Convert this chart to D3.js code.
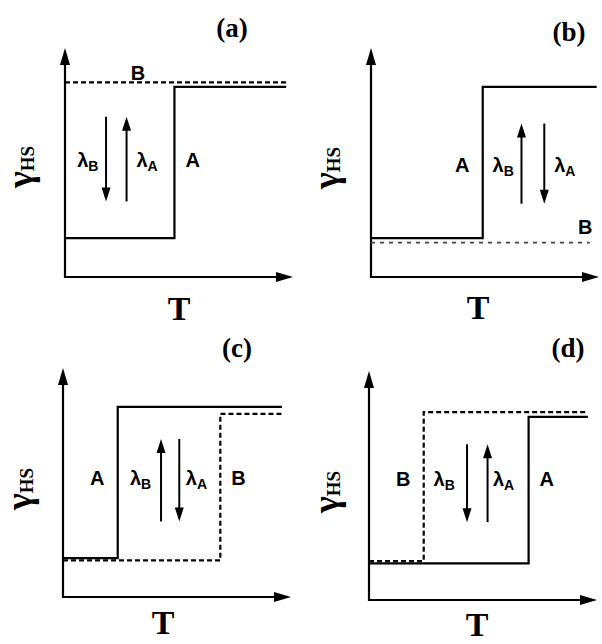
<!DOCTYPE html>
<html>
<head>
<meta charset="utf-8">
<script src="https://cdn.jsdelivr.net/npm/d3@7"></script>
<style>
  html, body { margin: 0; padding: 0; background: #fff; }
  svg { display: block; }
</style>
</head>
<body>
<script>
// ---- data (T and gamma_HS in arbitrary 0-100 units) ----
const panelNames  = ["(a)", "(b)", "(c)", "(d)"];
const transitionA = [48, 49, 24, 70];
const lowA        = [17, 17, 17, 16];
const highA       = [83, 83, 83, 80];
const endA        = [97, 99, 96, 96];
const transitionB = [null, null, 69, 24];
const lowB        = [85, 15, 16, 17];
const highB       = [85, 15, 80, 82];
const endB        = [97, 96, 96, 96];
const lambdaBT    = [18, 66, 43, 43];
const lambdaBDir  = ["down", "up", "up", "down"];
const lambdaAT    = [27, 76, 51, 52];
const lambdaADir  = ["up", "down", "down", "up"];
const arrowLow    = [33, 32, 33, 34];
const arrowHigh   = [70, 67, 69, 68];

// ---- layout ----
const W = 602, H = 644;
const origins = [[65, 277], [371, 277], [63, 597], [369, 600]];
const PW = 228, PH = 229;
// label positions (in data units) per panel: [text, T, gamma, kind]
const labelPos = [
  [["B", 32, 89, "AB"], ["λ", 10, 51, "lB"], ["λ", 36, 51, "lA"], ["A", 56, 51, "AB"]],
  [["A", 40, 49, "AB"], ["λ", 58, 49, "lB"], ["λ", 85, 49, "lA"], ["B", 94, 22, "AB"]],
  [["A", 15, 52, "AB"], ["λ", 34, 52, "lB"], ["λ", 58.5, 52, "lA"], ["B", 77, 52, "AB"]],
  [["B", 15, 53, "AB"], ["λ", 33, 53, "lB"], ["λ", 59, 53, "lA"], ["A", 78, 53, "AB"]]
];
const titlePos = [[232, 37], [569, 41], [237, 357], [568, 357]];
const tPos = [[179, 320], [478, 319], [163, 634], [477, 636]];
const gPos = [[32, 167], [338, 168], [31, 489], [338, 492]];

const svg = d3.select("body").append("svg")
  .attr("width", W).attr("height", H);
svg.append("rect").attr("width", W).attr("height", H).attr("fill", "#fff");

function headPath(x, y, dir, len, hw) {
  // tip at (x,y)
  if (dir === "up")    return `M${x},${y} L${x-hw},${y+len} L${x+hw},${y+len} Z`;
  if (dir === "down")  return `M${x},${y} L${x-hw},${y-len} L${x+hw},${y-len} Z`;
  if (dir === "right") return `M${x},${y} L${x-len},${y-hw} L${x-len},${y+hw} Z`;
}

const line = d3.line().curve(d3.curveStepAfter);

panelNames.forEach((name, i) => {
  const [ox, oy] = origins[i];
  const x = d3.scaleLinear().domain([0, 100]).range([ox, ox + PW]);
  const y = d3.scaleLinear().domain([0, 100]).range([oy, oy - PH]);
  const g = svg.append("g");

  // axes
  g.append("line").attr("x1", x(0)).attr("y1", y(0) + 1).attr("x2", x(0)).attr("y2", y(100) + 14)
    .attr("stroke", "#000").attr("stroke-width", 2.2);
  g.append("path").attr("d", headPath(x(0), y(100), "up", 17, 5)).attr("fill", "#000");
  g.append("line").attr("x1", x(0) - 1).attr("y1", y(0)).attr("x2", x(100) - 14).attr("y2", y(0))
    .attr("stroke", "#000").attr("stroke-width", 2.2);
  g.append("path").attr("d", headPath(x(100), y(0), "right", 17, 5)).attr("fill", "#000");

  // curve A (solid)
  const ptsA = [[0, lowA[i]], [transitionA[i], highA[i]], [endA[i], highA[i]]];
  g.append("path")
    .attr("d", line(ptsA.map(p => [x(p[0]), y(p[1])])))
    .attr("fill", "none").attr("stroke", "#000").attr("stroke-width", 2.2);

  // curve B (dashed)
  const ptsB = transitionB[i] === null
    ? [[0, lowB[i]], [endB[i], lowB[i]]]
    : [[0, lowB[i]], [transitionB[i], highB[i]], [endB[i], highB[i]]];
  const thin = i === 1;
  g.append("path")
    .attr("d", line(ptsB.map(p => [x(p[0]), y(p[1])])))
    .attr("fill", "none")
    .attr("stroke", thin ? "#444" : "#000")
    .attr("stroke-width", thin ? 1.6 : 2.2)
    .attr("stroke-dasharray", thin ? "4,5" : "5,3");

  // lambda arrows
  [[lambdaBT[i], lambdaBDir[i]], [lambdaAT[i], lambdaADir[i]]].forEach(([t, dir]) => {
    const yTip = dir === "up" ? y(arrowHigh[i]) : y(arrowLow[i]);
    const yTail = dir === "up" ? y(arrowLow[i]) : y(arrowHigh[i]);
    const yNeck = dir === "up" ? yTip + 12 : yTip - 12;
    g.append("line").attr("x1", x(t)).attr("y1", yTail).attr("x2", x(t)).attr("y2", yNeck)
      .attr("stroke", "#000").attr("stroke-width", 2);
    g.append("path").attr("d", headPath(x(t), yTip, dir, 14, 4.5)).attr("fill", "#000");
  });

  // labels
  labelPos[i].forEach(([txt, t, gm, kind]) => {
    const tx = g.append("text")
      .attr("x", x(t)).attr("y", y(gm) + 7)
      .attr("text-anchor", "middle")
      .attr("font-family", "'Liberation Sans', Arial, sans-serif")
      .attr("font-weight", "bold")
      .attr("font-size", 20)
      .attr("fill", "#000");
    if (kind === "AB") {
      tx.text(txt);
    } else {
      tx.append("tspan").text(txt);
      tx.append("tspan").attr("font-size", 14).attr("dy", 4).text(kind === "lB" ? "B" : "A");
    }
  });

  // panel title
  svg.append("text").attr("x", titlePos[i][0]).attr("y", titlePos[i][1])
    .attr("text-anchor", "middle")
    .attr("font-family", "'Liberation Serif', 'Times New Roman', serif")
    .attr("font-weight", "bold").attr("font-size", 27).text(name);

  // axis titles
  svg.append("text").attr("x", tPos[i][0]).attr("y", tPos[i][1])
    .attr("text-anchor", "middle")
    .attr("font-family", "'Liberation Serif', 'Times New Roman', serif")
    .attr("font-weight", "bold").attr("font-size", 34).text("T");

  const gt = svg.append("text")
    .attr("transform", `translate(${gPos[i][0]},${gPos[i][1]}) rotate(-90)`)
    .attr("text-anchor", "middle")
    .attr("font-family", "'Liberation Serif', 'Times New Roman', serif")
    .attr("font-weight", "bold");
  gt.append("tspan").attr("font-size", 36).text("γ");
  gt.append("tspan").attr("font-size", 19).attr("dy", 2).text("HS");
});
</script>
</body>
</html>
